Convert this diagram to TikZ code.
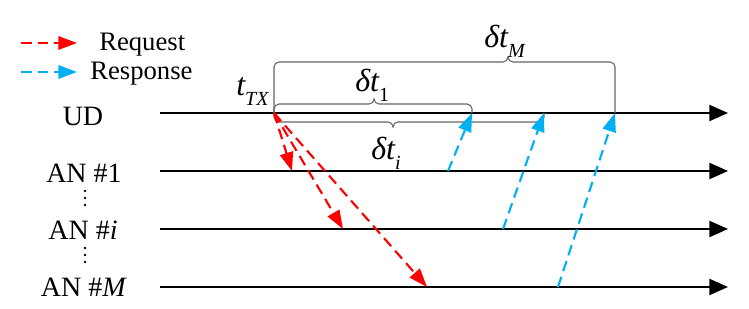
\documentclass[tikz,border=0pt]{standalone}
\usepackage{fontspec}
\setmainfont{Liberation Serif}
\usetikzlibrary{arrows.meta}
\definecolor{reqred}{RGB}{255,0,0}
\definecolor{resblue}{RGB}{0,176,240}
\newcommand\mysub[1]{\raisebox{-0.3em}{\fontsize{15}{15}\selectfont\itshape #1}}
\begin{document}
\begin{tikzpicture}[x=0.75pt,y=-0.75pt,
  timeline/.style={line width=1.5pt,-{Triangle[length=14pt,width=12pt]}},
  req/.style={reqred,line width=1.6pt,dash pattern=on 8pt off 4.5pt,-{Triangle[length=14pt,width=10pt]}},
  resp/.style={resblue,line width=1.6pt,dash pattern=on 8pt off 4.5pt,-{Triangle[length=14pt,width=10pt]}},
  lbl/.style={font=\fontsize{21}{24}\selectfont,inner sep=0pt,anchor=base},
  leg/.style={font=\fontsize{20}{24}\selectfont,inner sep=0pt,anchor=base west},
  mlbl/.style={font=\fontsize{24}{28}\selectfont\itshape,inner sep=0pt,anchor=base west},
  bracestyle/.style={draw=black!60,line width=0.8pt}]
\useasboundingbox (0,0) rectangle (749,309);

% legend
\coordinate (l1s) at (21,43); \coordinate (l1e) at (77,43);
\draw[req] (l1s) -- (l1e);
\node[leg] (reqlbl) at (99,51) {Request};
\coordinate (l2s) at (21,72); \coordinate (l2e) at (77,72);
\draw[resp] (l2s) -- (l2e);
\node[leg] (resplbl) at (90,80) {Response};

% timelines
\coordinate (UDs) at (160,113); \coordinate (UDe) at (728,113);
\coordinate (A1s) at (160,171); \coordinate (A1e) at (728,171);
\coordinate (Ais) at (160,229); \coordinate (Aie) at (728,229);
\coordinate (AMs) at (160,287); \coordinate (AMe) at (728,287);
\draw[timeline] (UDs) -- (UDe);
\draw[timeline] (A1s) -- (A1e);
\draw[timeline] (Ais) -- (Aie);
\draw[timeline] (AMs) -- (AMe);

\node[lbl] (UD) at (83,126) {UD};
\node[lbl] (AN1) at (84,183) {AN \#1};
\node[lbl] (ANi) at (83,240) {AN \#\textit{i}};
\node[lbl] (ANM) at (84,297) {AN \#\textit{M}};
\foreach \yy in {191,198,205,248,255,262}{\fill (85,\yy) circle[radius=1.4];}

% braces
\draw[bracestyle] (274,113) -- (274,67) arc[start angle=180,end angle=270,radius=5]
  -- (503,62) arc[start angle=90,end angle=0,radius=5] arc[start angle=180,end angle=90,radius=5]
  -- (610,62) arc[start angle=270,end angle=360,radius=5] -- (615,113);
\draw[bracestyle] (274,113) -- (274,109) arc[start angle=180,end angle=270,radius=5]
  -- (369,104) arc[start angle=90,end angle=0,radius=5] arc[start angle=180,end angle=90,radius=5]
  -- (467,104) arc[start angle=270,end angle=360,radius=5] -- (472,113);
\draw[bracestyle] (274,113) -- (274,117) arc[start angle=180,end angle=90,radius=5]
  -- (388,122) arc[start angle=270,end angle=360,radius=5] arc[start angle=180,end angle=270,radius=5]
  -- (539,122) arc[start angle=90,end angle=0,radius=5] -- (544,113);

\node[mlbl] (dtM) at (484,48) {δt\mysub{M}};
\node[mlbl] (dt1) at (355,92) {δt\mysub{\upshape 1}};
\node[mlbl] (dti) at (371,160) {δt\mysub{i}};
\node[mlbl] (ttx) at (236,96) {t\mysub{TX}};

% requests
\coordinate (tx) at (274,113);
\coordinate (r1) at (292,171);
\coordinate (ri) at (343,229);
\coordinate (rM) at (427,287);
\draw[req] (tx) -- (r1);
\draw[req] (tx) -- (ri);
\draw[req] (tx) -- (rM);

% responses
\coordinate (b1s) at (448,171); \coordinate (b1e) at (472,113);
\coordinate (bis) at (503,229); \coordinate (bie) at (544,113);
\coordinate (bMs) at (558,287); \coordinate (bMe) at (615,113);
\draw[resp] (b1s) -- (b1e);
\draw[resp] (bis) -- (bie);
\draw[resp] (bMs) -- (bMe);
\end{tikzpicture}
\end{document}
